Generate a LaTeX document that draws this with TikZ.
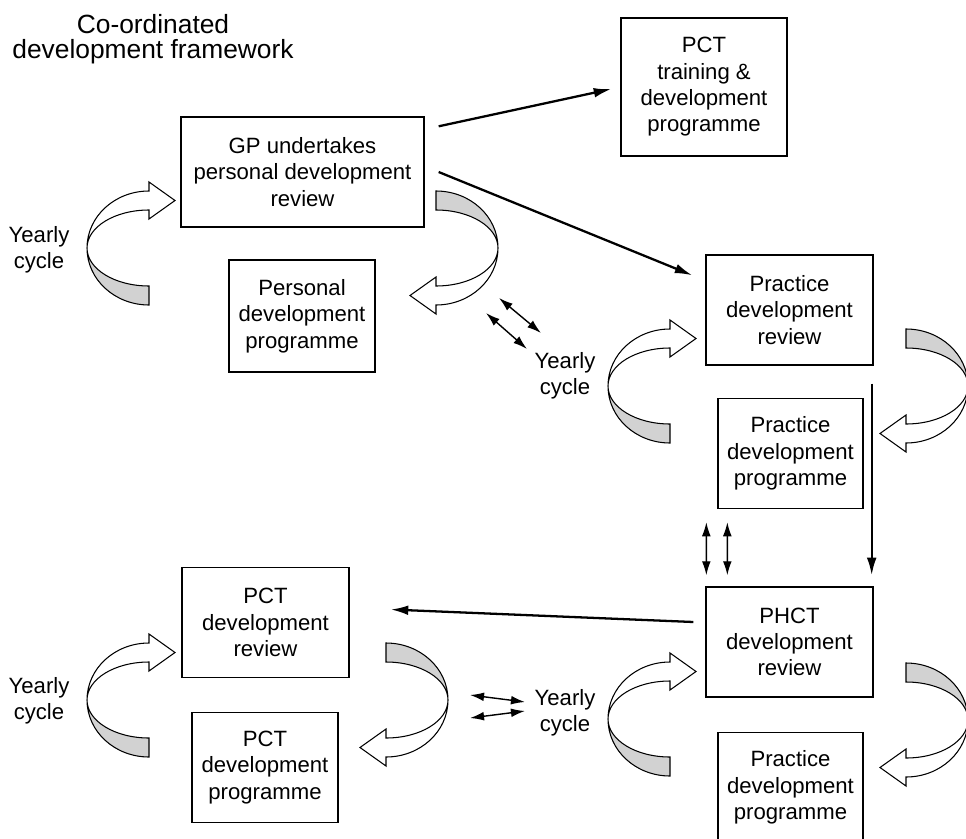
\documentclass[tikz,border=0pt]{standalone}
\usepackage{fontspec}
\setmainfont{Liberation Sans}
\usetikzlibrary{arrows.meta}
\definecolor{ribbongray}{HTML}{D2D2D2}
\tikzset{
  yearcycle/.pic={
    \draw[line width=0.6pt, fill=ribbongray] (-62,0) arc[start angle=180, end angle=90, x radius=62, y radius=57]
      -- (0,38) arc[start angle=90, end angle=180, x radius=62, y radius=38] -- cycle;
    \draw[line width=0.6pt, fill=white] (-62,0) arc[start angle=180, end angle=270, x radius=62, y radius=57]
      -- (0,-66) -- (26,-47.5) -- (0,-29) -- (0,-38)
      arc[start angle=270, end angle=180, x radius=62, y radius=38] -- cycle;
  }
}

\begin{document}
\begin{tikzpicture}[x=0.02cm, y=-0.02cm,
  box/.style={rectangle, draw, line width=0.8pt, minimum height=2.2cm, align=center,
    inner sep=0pt, font=\fontsize{12.6}{15}\selectfont},
  lbl/.style={align=center, font=\fontsize{12.6}{15}\selectfont},
  flow/.style={line width=1.3pt, -{Latex[length=10pt,width=5.5pt]}},
  both/.style={line width=0.8pt, {Latex[length=8pt,width=5pt]}-{Latex[length=8pt,width=5pt]}},
]
  \useasboundingbox (0,0) rectangle (966,838);

  \node[lbl, font=\fontsize{15}{14.5}\selectfont] (title) at (153,39) {Co-ordinated\\development framework};

  \node[box, minimum width=4.86cm] (gp) at (302.5,172) {GP undertakes\\personal development\\review};
  \node[box, minimum width=3.32cm, minimum height=2.76cm] (pcttd) at (704,87) {PCT\\training \&\\development\\programme};
  \node[box, minimum width=2.92cm, minimum height=2.24cm] (pdp) at (302,316) {Personal\\development\\programme};
  \node[box, minimum width=3.34cm] (prev) at (789.5,310) {Practice\\development\\review};
  \node[box, minimum width=2.9cm] (pprog) at (790.5,453.5) {Practice\\development\\programme};
  \node[box, minimum width=3.34cm] (pctrev) at (265.5,622.5) {PCT\\development\\review};
  \node[box, minimum width=2.92cm] (pctprog) at (265,767.5) {PCT\\development\\programme};
  \node[box, minimum width=3.34cm] (phct) at (789.5,642) {PHCT\\development\\review};
  \node[box, minimum width=2.9cm] (pprog2) at (790.5,787.5) {Practice\\development\\programme};

  \node[lbl] (yc1) at (39,250) {Yearly\\cycle};
  \node[lbl] (yc2) at (565,376) {Yearly\\cycle};
  \node[lbl] (yc3) at (39,701) {Yearly\\cycle};
  \node[lbl] (yc4) at (565,713) {Yearly\\cycle};

  \pic at (149,248) {yearcycle};
  \pic[rotate=180] at (436,248) {yearcycle};
  \pic at (670,386) {yearcycle};
  \pic[rotate=180] at (906,386) {yearcycle};
  \pic at (149,700) {yearcycle};
  \pic[rotate=180] at (386,700) {yearcycle};
  \pic at (670,719) {yearcycle};
  \pic[rotate=180] at (906,720) {yearcycle};

  \draw[flow] ([shift={(14,10)}]gp.north east) -- ([shift={(-9,2)}]pcttd.west);
  \draw[flow] ([shift={(14,0)}]gp.east) -- ([shift={(-13,21)}]prev.north west);
  \draw[flow] ([shift={(-2,18)}]prev.south east) -- ([shift={(-2,-11)}]phct.north east);
  \draw[flow] ([shift={(-12,-20)}]phct.west) -- ([shift={(41,-13)}]pctrev.east);

  \coordinate (d1a) at (499,298);
  \coordinate (d1b) at (541,333);
  \coordinate (d2a) at (486,313);
  \coordinate (d2b) at (527,349);
  \coordinate (h1a) at (470,695);
  \coordinate (h1b) at (525,702);
  \coordinate (h2a) at (470,718);
  \coordinate (h2b) at (525,711);
  \draw[both] (d1a) -- (d1b);
  \draw[both] (d2a) -- (d2b);
  \draw[both] (h1a) -- (h1b);
  \draw[both] (h2a) -- (h2b);
  \draw[both] ([shift={(-11,13)}]pprog.south west) -- ([shift={(1,-11)}]phct.north west);
  \draw[both] ([shift={(10,13)}]pprog.south west) -- ([shift={(22,-11)}]phct.north west);
\end{tikzpicture}
\end{document}
